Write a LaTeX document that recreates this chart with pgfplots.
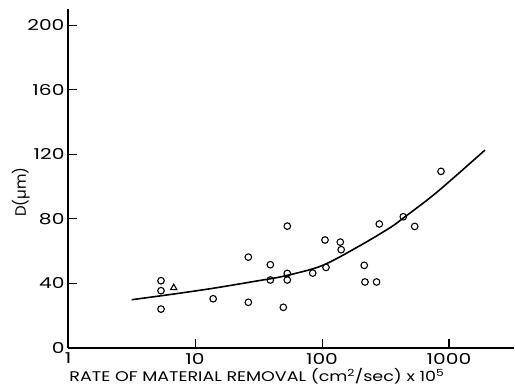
\documentclass[border=0pt]{standalone}
\usepackage{pgfplots}
\pgfplotsset{compat=1.18}
\usepackage{fontspec}
\setmainfont{Poppins}
\newfontfamily\widelabel[FakeStretch=1.25]{Poppins}
\newfontfamily\widetick[FakeStretch=1.35]{Poppins}
\begin{document}
\begin{tikzpicture}
\begin{axis}[
  scale only axis, width=446pt, height=339pt,
  xmode=log, xmin=1, xmax=3250, ymin=0, ymax=210,
  axis x line=bottom, axis y line=left,
  axis line style={-, line width=1.1pt},
  xtick={1,10,100,1000}, xticklabels={1,10,100,1000},
  xminorticks=false,
  ytick={0,40,80,120,160,200},
  tick align=inside, major tick length=9pt,
  tick style={line width=1pt, black},
  tick label style={font=\widetick\fontsize{15}{15}\selectfont},
  xticklabel style={yshift=-1.5pt},
  /pgf/number format/assume math mode=true,
  xlabel={RATE OF MATERIAL REMOVAL (cm\textsuperscript{2}/sec) x 10\textsuperscript{5}},
  ylabel={D(µm)},
  xlabel style={font=\widelabel\fontsize{14}{14}\selectfont, at={(axis description cs:0.4236,-0.1)}, anchor=base},
  ylabel style={font=\fontsize{15}{15}\selectfont, at={(axis description cs:-0.1056,0.46)}, anchor=center},
  clip=false,
]
\addplot[only marks, mark=o, mark size=3.3pt, mark options={line width=1.1pt}] coordinates {
(5.4,41.7) (5.4,35.5) (5.4,24.1)
(13.9,30.5) (26.3,56.3) (26.3,28.3)
(39.2,51.6) (39.2,42.1) (49.6,25.2)
(53.3,46.2) (53.3,42.1) (53.3,75.5)
(84.5,46.4) (107.5,49.9) (105.6,66.9)
(139.3,65.6) (141.6,60.9) (215,51.2)
(218,40.9) (269,40.9) (282.7,76.8)
(436.7,81.3) (537,75.3) (865,109.4)
};
\addplot[only marks, mark=triangle, mark size=3.6pt, mark options={line width=1.1pt}] coordinates {(6.8,37.3)};
\addplot[smooth, line width=1.6pt] coordinates {
(3.17,29.9) (6.75,33.4) (13.9,37.0) (30.6,41.5) (50,44.5) (100,51) (200,63.5) (343,74.5) (437,80.5) (800,96.4) (1920,122.6)
};
\end{axis}
\pgfresetboundingbox
\path ([shift={(-68pt,9pt)}]current axis.north west) rectangle ([shift={(1pt,-44pt)}]current axis.south east);
\end{tikzpicture}
\end{document}
